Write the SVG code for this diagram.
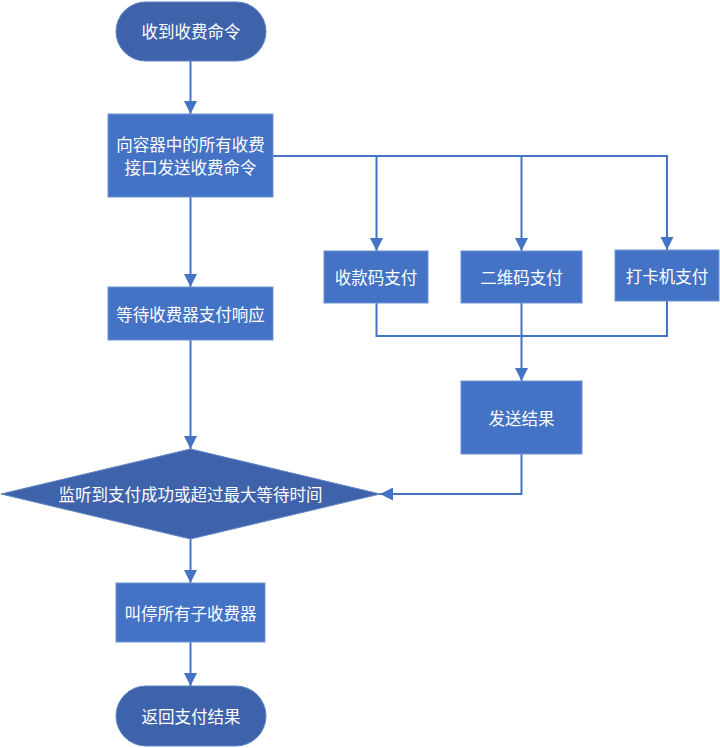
<svg xmlns="http://www.w3.org/2000/svg" width="720" height="748" viewBox="0 0 720 748">
<style>
.rect{fill:#4472C4;stroke:#6F93D2;stroke-width:1}
.term{fill:#3E63AB;stroke:#5F84C8;stroke-width:1}
.t{fill:#FFFFFF;font-family:"Noto Sans CJK SC","Noto Sans",sans-serif;font-size:16.5px;text-anchor:middle;dominant-baseline:central}
.c{fill:none;stroke:#4472C4;stroke-width:2}
</style>
<defs>
<marker id="ah" markerUnits="userSpaceOnUse" markerWidth="13" markerHeight="13" viewBox="0 0 13 13" refX="13" refY="6.5" orient="auto">
<path d="M0,0 L13,6.5 L0,13 z" fill="#4472C4"/>
</marker>
</defs>
<rect width="720" height="748" fill="#FFFFFF"/>
<g id="connectors">
<path class="c" d="M190.5,61 V114" marker-end="url(#ah)"/>
<path class="c" d="M273,156 H667 V250" marker-end="url(#ah)"/>
<path class="c" d="M376.5,156 V251" marker-end="url(#ah)"/>
<path class="c" d="M521.5,156 V251" marker-end="url(#ah)"/>
<path class="c" d="M190.5,197 V287" marker-end="url(#ah)"/>
<path class="c" d="M190.5,340 V449" marker-end="url(#ah)"/>
<path class="c" d="M376.5,303 V336 H667 V301"/>
<path class="c" d="M521.5,303 V381" marker-end="url(#ah)"/>
<path class="c" d="M521.5,454 V494 H380" marker-end="url(#ah)"/>
<path class="c" d="M190.5,539 V583" marker-end="url(#ah)"/>
<path class="c" d="M190.5,642 V686" marker-end="url(#ah)"/>
</g>
<g id="start">
<rect class="term" x="116" y="2" width="150" height="59" rx="29.5"/>
<text class="t" x="191" y="31">收到收费命令</text>
</g>
<g id="send">
<rect class="rect" x="108" y="114" width="165" height="83"/>
<text class="t" x="190.5" y="144">向容器中的所有收费</text>
<text class="t" x="190.5" y="167">接口发送收费命令</text>
</g>
<g id="wait">
<rect class="rect" x="108" y="287" width="165" height="53"/>
<text class="t" x="190.5" y="313.5">等待收费器支付响应</text>
</g>
<g id="pay1">
<rect class="rect" x="324" y="251" width="104" height="52"/>
<text class="t" x="376" y="277">收款码支付</text>
</g>
<g id="pay2">
<rect class="rect" x="461" y="251" width="121" height="52"/>
<text class="t" x="521.5" y="277">二维码支付</text>
</g>
<g id="pay3">
<rect class="rect" x="615" y="250" width="104" height="51"/>
<text class="t" x="667" y="275.5">打卡机支付</text>
</g>
<g id="result">
<rect class="rect" x="461" y="381" width="121" height="73"/>
<text class="t" x="521.5" y="417.5">发送结果</text>
</g>
<g id="decision">
<polygon class="term" points="1,494 190.5,449 380,494 190.5,539"/>
<text class="t" x="190.5" y="494">监听到支付成功或超过最大等待时间</text>
</g>
<g id="stop">
<rect class="rect" x="116" y="583" width="149" height="59"/>
<text class="t" x="190.5" y="612.5">叫停所有子收费器</text>
</g>
<g id="end">
<rect class="term" x="116" y="686" width="150" height="60" rx="30"/>
<text class="t" x="191" y="716">返回支付结果</text>
</g>
</svg>
